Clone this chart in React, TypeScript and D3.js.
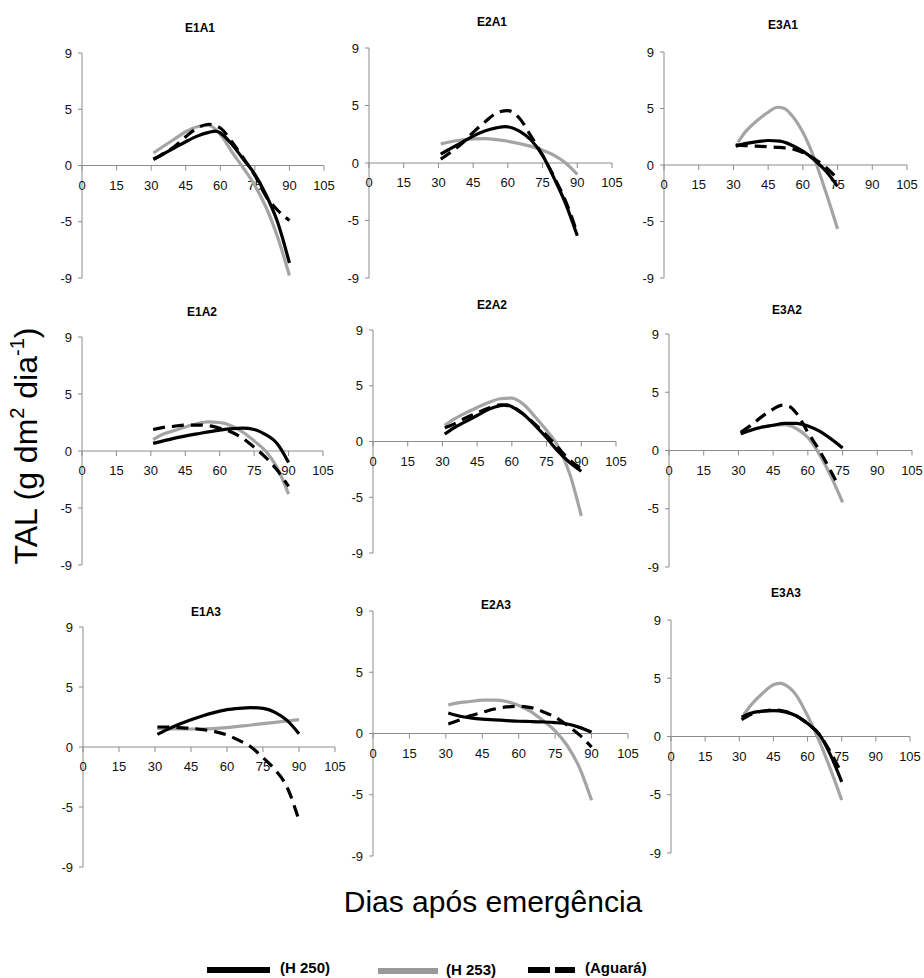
import React from "react";
import * as d3 from "d3";

const panelNames = ["E1A1", "E2A1", "E3A1", "E1A2", "E2A2", "E3A2", "E1A3", "E2A3", "E3A3"];
const xTicks = [0, 15, 30, 45, 60, 75, 90, 105];
const yTicks = [-9, -4.5, 0, 4.5, 9];
const yTickLabels = ["-9", "-5", "0", "5", "9"];
const seriesNames = ["(H 250)", "(H 253)", "(Aguará)"];

// [dias após emergência, TAL]
const e1a1H250 = [[31, 0.5], [35, 0.9], [40, 1.4], [45, 1.9], [50, 2.35], [55, 2.65], [58, 2.75], [60, 2.6], [65, 1.7], [70, 0.5], [75, -0.7], [80, -2.4], [85, -4.6], [90, -7.8]];
const e1a1H253 = [[31, 1.0], [35, 1.5], [40, 2.1], [45, 2.7], [50, 3.1], [55, 3.2], [60, 2.5], [65, 1.1], [70, -0.2], [75, -1.6], [80, -3.4], [85, -5.8], [90, -8.8]];
const e1a1Agu = [[31, 0.5], [35, 0.9], [40, 1.5], [45, 2.3], [50, 3.0], [55, 3.3], [60, 3.0], [65, 1.9], [70, 0.6], [75, -0.8], [80, -2.5], [85, -3.6], [90, -4.4]];

const e2a1H250 = [[31, 0.7], [35, 1.1], [40, 1.6], [45, 2.1], [50, 2.5], [55, 2.75], [59, 2.85], [65, 2.5], [70, 1.8], [75, 0.6], [80, -1.2], [85, -3.2], [90, -5.7]];
const e2a1H253 = [[31, 1.5], [40, 1.8], [50, 1.9], [60, 1.7], [70, 1.3], [75, 1.0], [80, 0.6], [85, 0.0], [90, -0.9]];
const e2a1Agu = [[31, 0.3], [35, 0.8], [40, 1.5], [45, 2.4], [50, 3.2], [55, 3.9], [60, 4.1], [65, 3.5], [70, 2.1], [75, 0.6], [80, -1.1], [85, -3.0], [90, -5.5]];

const e3a1H250 = [[31, 1.5], [35, 1.7], [40, 1.85], [45, 1.95], [50, 1.9], [55, 1.6], [60, 1.1], [65, 0.4], [70, -0.5], [75, -1.7]];
const e3a1H253 = [[32, 1.8], [35, 2.6], [40, 3.5], [45, 4.2], [49, 4.6], [52, 4.5], [55, 4.0], [60, 2.6], [65, 0.5], [70, -2.2], [75, -5.1]];
const e3a1Agu = [[31, 1.6], [35, 1.55], [40, 1.5], [45, 1.45], [50, 1.4], [55, 1.3], [60, 1.0], [65, 0.5], [70, -0.2], [74, -0.9]];

const e1a2H250 = [[31, 0.6], [40, 1.0], [50, 1.35], [60, 1.65], [70, 1.8], [75, 1.7], [80, 1.3], [85, 0.6], [90, -0.9]];
const e1a2H253 = [[31, 0.9], [35, 1.3], [40, 1.6], [45, 1.9], [50, 2.15], [55, 2.3], [60, 2.25], [65, 2.0], [70, 1.5], [75, 0.8], [80, 0.0], [85, -1.3], [90, -3.4]];
const e1a2Agu = [[31, 1.7], [35, 1.85], [40, 1.95], [45, 2.05], [50, 2.05], [55, 2.0], [60, 1.8], [65, 1.5], [70, 1.0], [75, 0.3], [80, -0.5], [85, -1.5], [90, -2.8]];

const e2a2H250 = [[31, 0.6], [35, 1.1], [40, 1.6], [45, 2.1], [50, 2.6], [55, 2.9], [58, 2.95], [60, 2.8], [65, 2.2], [70, 1.3], [75, 0.3], [80, -0.8], [85, -1.7], [90, -2.4]];
const e2a2H253 = [[31, 1.3], [35, 1.8], [40, 2.3], [45, 2.75], [50, 3.15], [55, 3.45], [60, 3.5], [65, 3.0], [70, 2.0], [75, 0.9], [80, -0.4], [85, -2.6], [90, -6.0]];
const e2a2Agu = [[31, 1.1], [35, 1.4], [40, 1.9], [45, 2.3], [50, 2.7], [55, 2.95], [60, 2.8], [65, 2.2], [70, 1.4], [75, 0.5], [80, -0.5], [85, -1.5], [90, -2.2]];

const e3a2H250 = [[31, 1.3], [35, 1.55], [40, 1.8], [45, 1.95], [50, 2.1], [55, 2.1], [60, 1.9], [65, 1.5], [70, 0.9], [75, 0.2]];
const e3a2H253 = [[31, 1.3], [35, 1.55], [40, 1.8], [45, 1.95], [50, 2.0], [55, 1.7], [60, 1.0], [65, -0.3], [70, -2.0], [75, -4.0]];
const e3a2Agu = [[31, 1.4], [35, 1.9], [40, 2.6], [45, 3.2], [49, 3.5], [52, 3.4], [55, 2.9], [60, 1.4], [65, 0.0], [72, -2.3]];

const e1a3H250 = [[31, 0.95], [35, 1.3], [40, 1.7], [45, 2.05], [50, 2.35], [55, 2.6], [60, 2.8], [65, 2.9], [70, 2.95], [75, 2.9], [80, 2.6], [85, 2.0], [90, 1.0]];
const e1a3H253 = [[31, 1.4], [40, 1.35], [50, 1.35], [60, 1.45], [70, 1.65], [80, 1.85], [90, 2.05]];
const e1a3Agu = [[31, 1.5], [35, 1.5], [40, 1.45], [45, 1.4], [50, 1.3], [55, 1.15], [60, 0.9], [65, 0.5], [70, 0.0], [75, -0.8], [80, -1.7], [85, -3.0], [90, -5.5]];

const e2a3H250 = [[31, 1.5], [35, 1.3], [40, 1.15], [45, 1.05], [50, 1.0], [55, 0.95], [60, 0.9], [65, 0.88], [70, 0.85], [75, 0.8], [80, 0.7], [85, 0.45], [90, 0.1]];
const e2a3H253 = [[31, 2.1], [35, 2.25], [40, 2.35], [45, 2.45], [50, 2.45], [55, 2.35], [60, 2.05], [65, 1.6], [70, 0.95], [75, 0.2], [80, -0.9], [85, -2.5], [90, -4.9]];
const e2a3Agu = [[31, 0.7], [35, 0.95], [40, 1.3], [45, 1.55], [50, 1.8], [55, 1.95], [60, 2.0], [65, 1.9], [70, 1.6], [75, 1.2], [80, 0.6], [85, -0.1], [90, -1.0]];

const e3a3H250 = [[31, 1.5], [35, 1.8], [40, 1.95], [45, 2.0], [50, 1.9], [55, 1.6], [60, 1.0], [65, 0.2], [70, -1.4], [75, -3.5]];
const e3a3H253 = [[32, 1.7], [35, 2.4], [40, 3.3], [45, 4.0], [48, 4.1], [50, 4.0], [55, 3.2], [60, 1.6], [65, -0.3], [70, -2.5], [75, -4.9]];
const e3a3Agu = [[31, 1.3], [35, 1.7], [40, 1.95], [45, 2.05], [50, 1.95], [55, 1.6], [60, 1.0], [65, 0.2], [70, -1.2], [74, -2.5]];

// order per panel: H 250, H 253, Aguará
const panelSeries = [
  [e1a1H250, e1a1H253, e1a1Agu],
  [e2a1H250, e2a1H253, e2a1Agu],
  [e3a1H250, e3a1H253, e3a1Agu],
  [e1a2H250, e1a2H253, e1a2Agu],
  [e2a2H250, e2a2H253, e2a2Agu],
  [e3a2H250, e3a2H253, e3a2Agu],
  [e1a3H250, e1a3H253, e1a3Agu],
  [e2a3H250, e2a3H253, e2a3Agu],
  [e3a3H250, e3a3H253, e3a3Agu],
];

// pixel boxes of each small plot (x of 0 and 105, y of 9 and -9), title centre
const boxes = [
  { x0: 82, x1: 324, yt: 53, yb: 278, tx: 200, ty: 32 },
  { x0: 369, x1: 612, yt: 48, yb: 278, tx: 492, ty: 26 },
  { x0: 664, x1: 907, yt: 52, yb: 278, tx: 783, ty: 29 },
  { x0: 82, x1: 323, yt: 337, yb: 565, tx: 202, ty: 316 },
  { x0: 373, x1: 616, yt: 330, yb: 553, tx: 492, ty: 309 },
  { x0: 669, x1: 912, yt: 334, yb: 567, tx: 787, ty: 314 },
  { x0: 83, x1: 335, yt: 627, yb: 867, tx: 206, ty: 616 },
  { x0: 373, x1: 628, yt: 611, yb: 856, tx: 496, ty: 609 },
  { x0: 671, x1: 910, yt: 620, yb: 853, tx: 786, ty: 597 },
];

const styles = [
  { stroke: "#000", dash: undefined as string | undefined },
  { stroke: "#a4a4a4", dash: undefined as string | undefined },
  { stroke: "#000", dash: "12,7" },
];
const drawOrder = [1, 0, 2];
const tickFont = "'Liberation Sans Narrow', 'Arial Narrow', 'Liberation Sans', Arial, sans-serif";
const mainFont = "'Liberation Sans', Arial, sans-serif";
const axisColor = "#8c8c8c";

function Panel({ box, title, series }: { box: any; title: string; series: number[][][] }) {
  const x = d3.scaleLinear().domain([0, 105]).range([box.x0, box.x1]);
  const y = d3.scaleLinear().domain([-9, 9]).range([box.yb, box.yt]);
  const line = d3
    .line<number[]>()
    .x((d) => x(d[0]))
    .y((d) => y(d[1]))
    .curve(d3.curveMonotoneX);
  const y0 = y(0);
  return (
    <g>
      <text x={box.tx} y={box.ty} textAnchor="middle" fontFamily={mainFont} fontWeight="bold" fontSize={12}>
        {title}
      </text>
      {/* y axis */}
      <line x1={x(0)} x2={x(0)} y1={y(9)} y2={y(-9)} stroke={axisColor} strokeWidth={1} />
      {yTicks.map((t, i) => (
        <g key={"y" + t}>
          <line x1={x(0) - 4} x2={x(0)} y1={y(t)} y2={y(t)} stroke={axisColor} />
          <text x={x(0) - 10} y={y(t) + 4.5} textAnchor="end" fontFamily={tickFont} fontSize={13} fill="#111">
            {yTickLabels[i]}
          </text>
        </g>
      ))}
      {/* x axis */}
      <line x1={x(0)} x2={x(105)} y1={y0} y2={y0} stroke={axisColor} strokeWidth={1} />
      {xTicks.map((t) => (
        <g key={"x" + t}>
          <line x1={x(t)} x2={x(t)} y1={y0} y2={y0 + 5} stroke={axisColor} />
          <text x={x(t)} y={y0 + 24} textAnchor="middle" fontFamily={tickFont} fontSize={13} fill="#111">
            {t}
          </text>
        </g>
      ))}
      {drawOrder.map((si) => (
        <path
          key={si}
          d={line(series[si]) || ""}
          fill="none"
          stroke={styles[si].stroke}
          strokeWidth={3.2}
          strokeDasharray={styles[si].dash}
          strokeLinecap="butt"
        />
      ))}
    </g>
  );
}

export default function App() {
  const legend = [
    { x1: 207, x2: 270, y: 970, tx: 280, ty: 973 },
    { x1: 378, x2: 438, y: 971, tx: 446, ty: 975 },
    { x1: 528, x2: 575, y: 970, tx: 585, ty: 973 },
  ];
  return (
    <svg width={924} height={978} style={{ position: "absolute", left: 0, top: 0, background: "#fff" }}>
      <rect width={924} height={978} fill="#fff" />
      {panelNames.map((name, i) => (
        <Panel key={name} box={boxes[i]} title={name} series={panelSeries[i]} />
      ))}
      <text transform="translate(37,446) rotate(-90)" textAnchor="middle" fontFamily={mainFont} fontSize={32}>
        TAL (g dm
        <tspan fontSize={20} dy={-13}>2</tspan>
        <tspan dy={13}> dia</tspan>
        <tspan fontSize={20} dy={-13}>-1</tspan>
        <tspan dy={13}>)</tspan>
      </text>
      <text x={493} y={912} textAnchor="middle" fontFamily={mainFont} fontSize={30}>
        Dias após emergência
      </text>
      {legend.map((l, i) => (
        <g key={i}>
          <line
            x1={l.x1}
            x2={l.x2}
            y1={l.y}
            y2={l.y}
            stroke={i === 1 ? "#999" : "#000"}
            strokeWidth={6}
            strokeDasharray={i === 2 ? "22,5" : undefined}
          />
          <text x={l.tx} y={l.ty} fontFamily={mainFont} fontWeight="bold" fontSize={15}>
            {seriesNames[i]}
          </text>
        </g>
      ))}
    </svg>
  );
}
